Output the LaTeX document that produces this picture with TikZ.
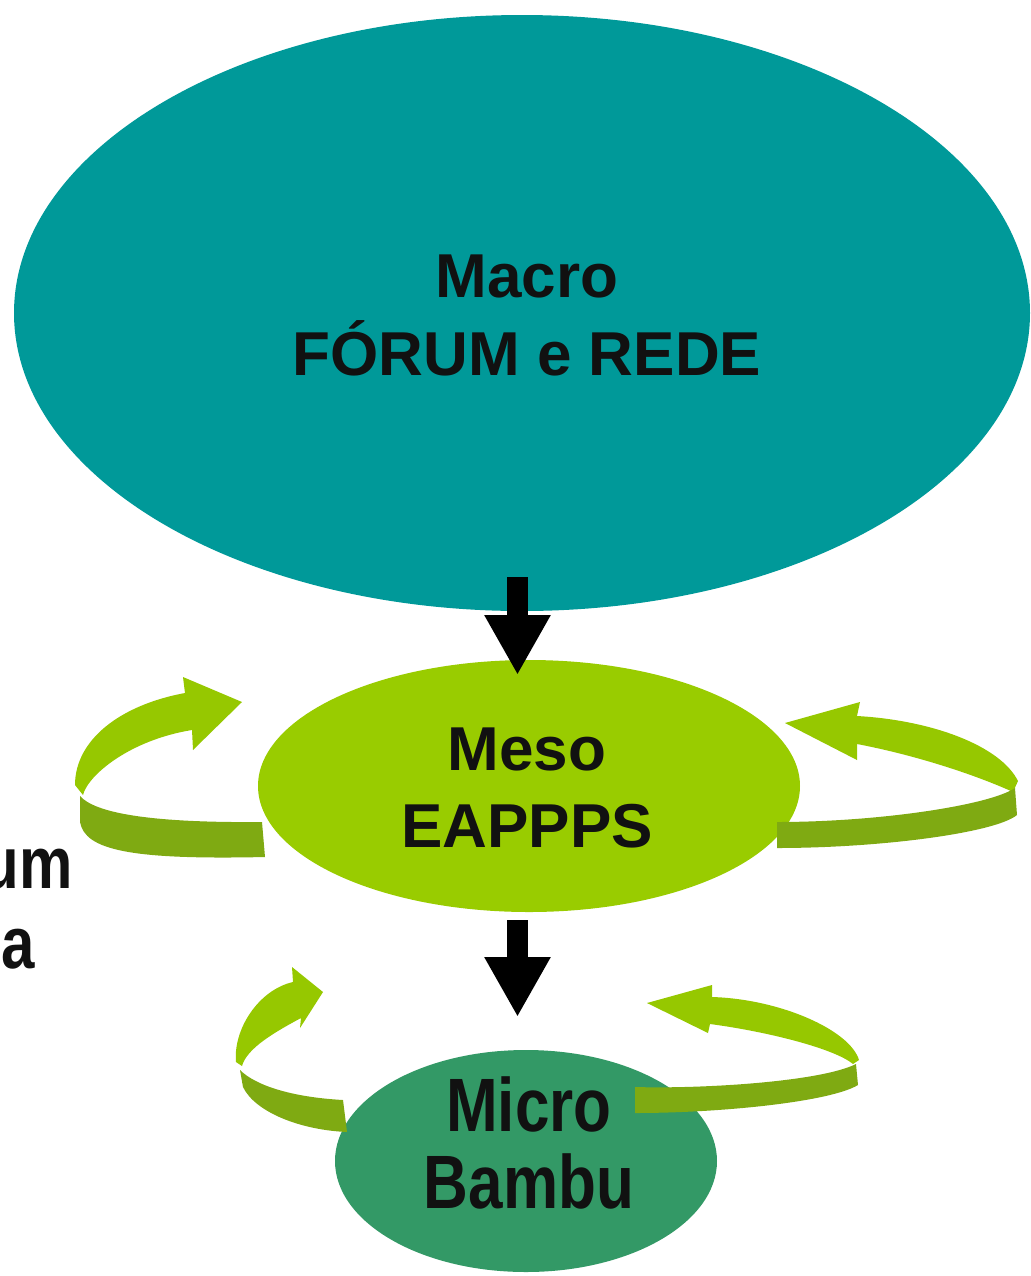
\documentclass[tikz,border=0pt]{standalone}
\usepackage{fontspec}
\usepackage{graphicx}
\setmainfont{Liberation Sans}
\usetikzlibrary{arrows.meta,shapes.geometric}
\definecolor{macroC}{HTML}{009999}
\definecolor{mesoC}{HTML}{99CC00}
\definecolor{microC}{HTML}{339966}
\definecolor{ribbonL}{HTML}{96C800}
\definecolor{ribbonD}{HTML}{7FAA12}
\definecolor{txt}{HTML}{111111}
\begin{document}
\begin{tikzpicture}[x=0.5pt,y=-0.5pt,
  blob/.style={ellipse, inner sep=0pt, draw=none},
  lbl/.style={anchor=base, inner sep=0pt, text=txt, font=\fontsize{31}{39}\selectfont\bfseries},
  side/.style={anchor=base east, inner sep=0pt, text=txt, font=\fontsize{30}{39}\selectfont\bfseries},
  downarrow/.style={line width=10.5pt, draw=black, -{Triangle[width=31pt,length=30pt]}},
  light/.style={fill=ribbonL},
  dark/.style={fill=ribbonD}]
\useasboundingbox (0,0) rectangle (1030,1276);
\clip (0,0) rectangle (1030,1276);

% ellipses
\node[blob, fill=macroC, minimum width=508pt, minimum height=298pt] (macro) at (522,313) {};
\node[blob, fill=mesoC, minimum width=271pt, minimum height=126pt] (meso) at (529,786) {};
\node[blob, fill=microC, minimum width=191pt, minimum height=111pt] (micro) at (526,1161) {};

% labels
\node[lbl] (macro1) at (527,297) {Macro};
\node[lbl] (macro2) at (527,375) {FÓRUM e REDE};
\node[lbl] (meso1) at (527,770) {Meso};
\node[lbl] (meso2) at (527,847) {EAPPPS};
\node[lbl] (micro1) at (529,1131) {\scalebox{1}[1.22]{Micro}};
\node[lbl] (micro2) at (529,1208) {\scalebox{1}[1.22]{Bambu}};

% cut-off text at left edge
\node[side] (leftA) at (73,888) {\scalebox{1}[1.22]{um}};
\node[side] (leftB) at (35,968) {\scalebox{1}[1.22]{a}};

% down arrows
\coordinate (a1s) at (517.5,577);
\coordinate (a1e) at (517.5,675);
\coordinate (a2s) at (517.5,920);
\coordinate (a2e) at (517.5,1017);
\draw[downarrow] (a1s) -- (a1e);
\draw[downarrow] (a2s) -- (a2e);

% left meso ribbon
\path[light] (83,795) .. controls (88,775) and (130,740) .. (192,730) -- (193,750) -- (242,702) -- (183,677) -- (185,693) .. controls (120,705) and (75,740) .. (75,785) -- cycle;
\path[dark] (80,796) .. controls (95,813) and (150,823) .. (262,822) -- (265,857) .. controls (130,860) and (85,850) .. (80,822) -- cycle;

% right meso ribbon
\path[light] (857,716) .. controls (930,720) and (1000,745) .. (1018,781) -- (1013,792) .. controls (985,779) and (925,757) .. (857,744) -- (857,760) -- (785,723) -- (860,702) -- cycle;
\path[dark] (1015,788) .. controls (990,805) and (880,822) .. (777,822) -- (777,848) .. controls (880,848) and (995,833) .. (1017,815) -- cycle;

% left micro ribbon
\path[light] (242,1066) .. controls (247,1048) and (275,1032) .. (301,1018) -- (300,1028) -- (323,992) -- (292,967) -- (293,982) .. controls (258,990) and (233,1030) .. (236,1062) -- cycle;
\path[dark] (240,1070) .. controls (255,1085) and (290,1097) .. (343,1100) -- (347,1132) .. controls (300,1130) and (255,1112) .. (243,1087) -- cycle;

% right micro ribbon
\path[light] (712,997) .. controls (780,999) and (850,1030) .. (859,1060) -- (853,1064) .. controls (835,1049) and (770,1032) .. (710,1024) -- (708,1033) -- (647,1003) -- (712,985) -- cycle;
\path[dark] (856,1064) .. controls (820,1082) and (700,1089) .. (635,1087) -- (635,1113) .. controls (720,1113) and (830,1102) .. (858,1085) -- cycle;
\end{tikzpicture}
\end{document}
